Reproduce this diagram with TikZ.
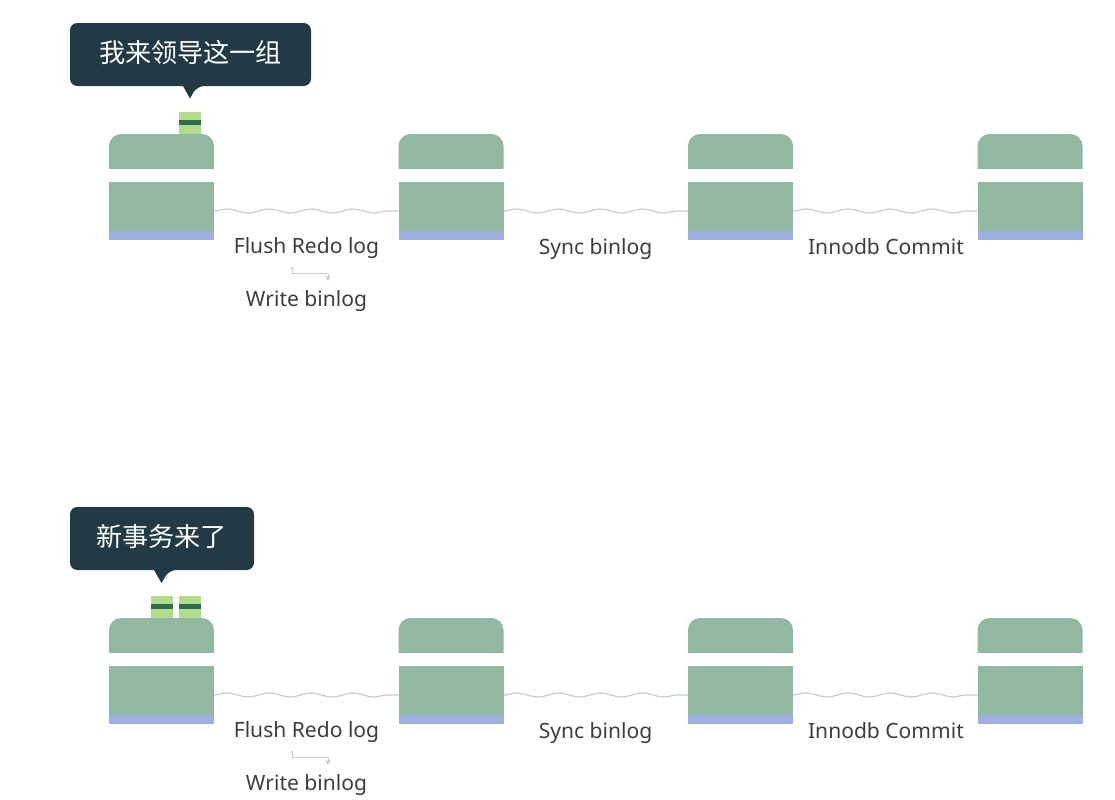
\documentclass[tikz,border=0pt]{standalone}
\usepackage{fontspec}
\setmainfont{Noto Sans}
\newfontfamily\cjkfont{Noto Sans CJK SC}
\usetikzlibrary{decorations.pathmorphing,arrows.meta}
\definecolor{boxgreen}{HTML}{93B8A2}
\definecolor{boxblue}{HTML}{9DB0E0}
\definecolor{bubbledark}{HTML}{223A45}
\definecolor{tokenlight}{HTML}{B0DC8C}
\definecolor{tokendark}{HTML}{2F6B4F}
\definecolor{wavegray}{HTML}{C4CDD2}
\definecolor{labelgray}{HTML}{3A3F42}
\tikzset{
  x=0.75pt,y=-0.75pt,
  lowerbox/.style={fill=boxgreen,inner sep=0pt,outer sep=0pt,minimum width=78.75pt,minimum height=43.5pt},
  blueband/.style={fill=boxblue,inner sep=0pt,outer sep=0pt,minimum width=78.75pt,minimum height=6.75pt},
  wave/.style={draw=wavegray,line width=0.9pt,decorate,decoration={snake,amplitude=1.5pt,segment length=31.5pt}},
  steplabel/.style={text=labelgray,font=\fontsize{15.8pt}{18pt}\selectfont,inner sep=0pt},
  bubble/.style={fill=bubbledark,rounded corners=5.5pt},
  bubbletext/.style={text=white,font=\cjkfont\fontsize{19.6pt}{23pt}\selectfont,inner sep=0pt},
  tokenbody/.style={fill=tokenlight,inner sep=0pt,outer sep=0pt,minimum width=16.5pt,minimum height=16.5pt},
  tokenbar/.style={fill=tokendark,inner sep=0pt,outer sep=0pt,minimum width=16.5pt,minimum height=3.4pt},
  smallflow/.style={draw=wavegray,line width=0.7pt,-{Stealth[length=4pt,width=4pt]}},
}
\begin{document}
\begin{tikzpicture}
\path[use as bounding box,fill=white] (0,0) rectangle (1115,800);
% tokens sit behind the caps
\node[tokenbody] (ta) at (190,123) {};
\node[tokenbar] (tabar) at (190,122.5) {};
\node[tokenbody] (tb) at (161.5,607) {};
\node[tokenbar] (tbbar) at (161.5,606.5) {};
\node[tokenbody] (tc) at (190,607) {};
\node[tokenbar] (tcbar) at (190,606.5) {};
% two identical rows
\foreach \r/\dy in {a/0,b/484}{
  \begin{scope}[yshift=-0.75pt*\dy]
    \foreach \n/\xx in {1/109,2/398.5,3/688,4/977.5}{
      \fill[boxgreen,rounded corners=9pt] (\xx,180) -- (\xx,134) -- (\xx+105,134) -- (\xx+105,180) -- cycle;
      \fill[white] (\xx-1,169) rectangle (\xx+106,182);
      \node[lowerbox] (box\r\n) at (\xx+52.5,211) {};
      \node[blueband] (band\r\n) at (\xx+52.5,235.5) {};
    }
    \draw[wave] (box\r1.east) -- (box\r2.west);
    \draw[wave] (box\r2.east) -- (box\r3.west);
    \draw[wave] (box\r3.east) -- (box\r4.west);
    \node[steplabel] (flush\r) at (306.5,248) {Flush Redo log};
    \node[steplabel] (write\r) at (306.5,301.5) {Write binlog};
    \node[steplabel] (sync\r) at (595.5,249.5) {Sync binlog};
    \node[steplabel] (commit\r) at (886,247) {Innodb Commit};
    \coordinate (fs\r) at (292,268);
    \coordinate (fe\r) at (328,281);
    \draw[smallflow] (fs\r) -- (292,273) -- (328,273) -- (fe\r);
    \fill[wavegray] (fs\r) circle (1pt);
  \end{scope}
}
% first bubble
\fill[bubble] (70,23) -- (311,23) -- (311,86) -- (197,86) [sharp corners] -- (190,98.5) -- (183,86) [rounded corners=5.5pt] -- (70,86) -- cycle;
\node[bubbletext] (msga) at (190.5,52.5) {我来领导这一组};
% second bubble
\fill[bubble] (70,507) -- (254,507) -- (254,570) -- (169,570) [sharp corners] -- (161.5,583) -- (154,570) [rounded corners=5.5pt] -- (70,570) -- cycle;
\node[bubbletext] (msgb) at (161.5,537) {新事务来了};
\end{tikzpicture}
\end{document}
